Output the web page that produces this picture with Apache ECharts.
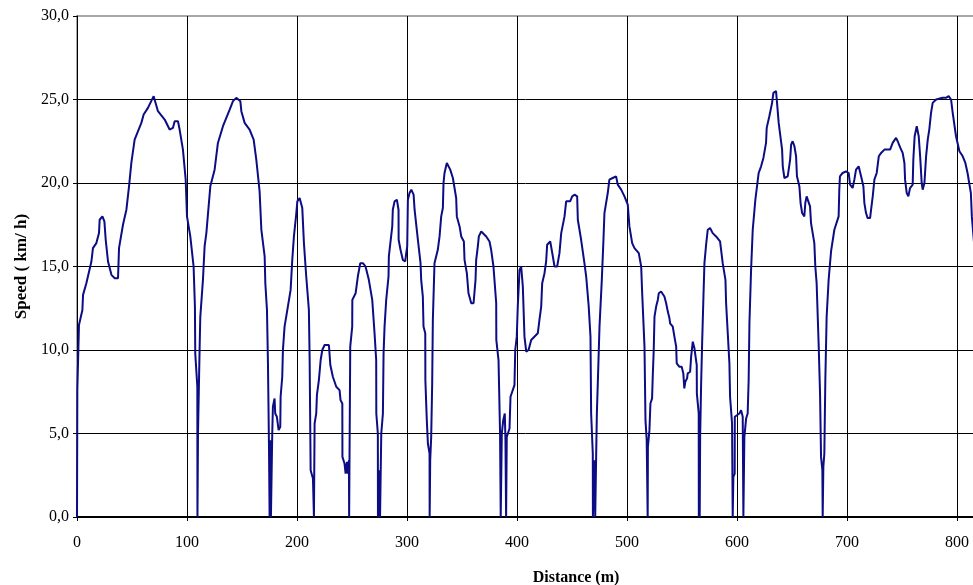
<!DOCTYPE html>
<html>
<head>
<meta charset="utf-8">
<script src="https://cdn.jsdelivr.net/npm/echarts@6/dist/echarts.min.js"></script>
<style>html,body{margin:0;padding:0;background:#fff;}#c{width:973px;height:585px;}</style>
</head>
<body>
<div id="c"></div>
<script>
var distance = [0,0.3,1.8,4.9,5.5,8.5,13.1,14.5,17.6,20,20.6,23.1,24.9,26.1,28.2,31.3,34.3,37.3,38.2,41.8,44.9,47.3,49.4,52.4,58.5,60.6,64.5,69.7,71.5,73.6,79.7,84.2,87.2,88.8,91.8,93.3,96.3,98.8,100,103,106,107.2,107.5,109.4,109.5,110,111.5,112.1,114.5,116,117.6,121.2,125.1,128.1,132.7,138.8,141.8,144.8,148.5,149.4,152.4,156.9,160.6,163,166,167.6,170.6,171.2,172.7,173.6,174.5,175.1,175.7,176.3,177.5,178.1,179.6,180.2,181.7,183.3,184.8,185.1,186.6,187.2,188.7,191.7,194.2,195.7,197.2,199.4,200.3,202.4,204.8,206.3,208.4,210.8,211.5,212.4,214.5,215.4,216,217.5,218.1,219.6,219.9,221.5,223,225.1,229,230.3,232.6,235.7,238.7,239.6,241.2,241.3,243.2,244.2,245.4,246.3,247.2,247.4,248,248.4,250.2,250.3,253.3,255.3,257.5,259.9,262.3,265.3,268.4,270.5,272,272.1,273.5,273.6,274.4,275.5,276.6,278.1,278.7,279.6,281.1,283.2,283.5,286.6,287.1,288.7,290.8,292.3,292.4,294.1,296.2,298.4,299.3,300.2,300.8,302.3,303.9,306,306.9,309.9,312.3,312.9,314.4,315,316.6,316.7,318,319,320.5,320.6,321.1,322,322.9,323.5,325,328,329.6,331.1,332.6,333.2,334.1,336.2,338,339.3,341.7,344.7,345.3,347.8,349.3,351.7,352.3,354.4,355.9,358.4,360.5,362.3,362.9,364.4,365.3,367.5,368.9,372,375,376.5,378.6,381.1,381.2,383.2,384.6,385.2,386.2,387.5,388.9,389.5,390.1,390.7,393.2,394.1,397.7,398.4,399.8,400.7,402.3,403.8,405.3,406.8,408.4,410.5,412.9,418.9,420.4,422,422.9,425,426.5,427.4,430.2,432.6,434.1,436.5,438.6,440.2,443.2,444.7,448.3,450.2,452.3,454.7,455.3,458.3,461.3,462.9,465.2,466.8,467.4,468.9,469,470.5,471.1,472,472.6,474,475,477.1,478.6,479.5,482.5,484,487,490.1,491.6,494.7,497.7,500.7,502.2,504.7,506.8,510.7,512.9,513.8,515.9,516.8,517.9,518.8,519,520.4,521.3,522.8,523.4,524.3,525,526.5,528,528.9,531,534,535.6,537.1,538.6,539.2,541.6,543.1,544.7,545.2,547.5,549.7,550.4,551.2,552.1,553,554.6,555.2,557.4,558.3,559.8,561.3,563.4,563.5,565.2,565.3,565.8,566.1,566.5,567.4,568.3,569.5,570.4,571.9,573.4,575.5,577.9,581,584.6,587,589.5,590.1,591.6,593.1,593.7,595.5,596.1,596.7,597.9,598,599.7,602.2,603.7,605.2,605.8,606.7,608.3,609.7,610.6,611.3,612.8,614.3,616.7,619.7,621.9,624,626.4,627,629.4,631.9,633.1,635.5,636.4,637.9,641,641.6,643.1,646.1,648.3,649.2,650.6,652.2,653.7,654.5,656.7,657.8,659.2,661.2,662.1,663.3,665.1,666.4,667.3,670.3,671.2,672.4,674.2,675.5,676.4,677.6,677.9,678.5,679.4,680.3,681.5,683.3,685.5,688.5,692.4,693,693.6,696,699.1,701.5,702.8,705.1,706.7,708.2,710.6,712.8,714.9,715.8,717.3,718.8,721,721.9,723.4,724.9,727,728.9,731,734,739.2,741.5,744.6,746.1,748.5,750.6,752.2,752.8,754.3,755.8,757.3,759.7,760.3,761.5,763.4,765.2,766.5,767.9,768.8,770.4,771.9,773.4,774.8,776.4,777.9,781,787,790,792.4,794.6,796.1,799.1,802.2,805.2,807.6,809.6,811.1,812.6,813.5,816];
var speed = [0,7.6,11.5,12.4,13.3,14.0,15.3,16.1,16.4,17.0,17.8,18.0,17.7,16.6,15.3,14.5,14.3,14.3,16.1,17.5,18.4,19.8,21.2,22.6,23.6,24.1,24.5,25.2,25.2,24.3,23.8,23.2,23.3,23.7,23.7,23.2,22.0,20.2,18.0,16.8,15.0,12.6,9.8,7.8,0,5.0,10.2,12.0,14.2,16.2,17.0,19.8,20.8,22.4,23.4,24.4,24.9,25.1,24.9,24.3,23.6,23.2,22.6,21.4,19.5,17.2,15.6,14.0,12.4,9.2,4.4,0,4.6,0,5.0,6.6,7.1,6.2,6.0,5.2,5.4,7.2,8.4,10.0,11.4,12.6,13.6,15.4,16.8,18.2,18.9,19.1,18.5,16.4,14.4,12.4,9.4,2.8,2.3,0,5.6,6.2,7.3,7.4,8.2,9.4,10.0,10.3,10.3,9.1,8.4,7.8,7.6,7.0,6.8,3.6,3.2,2.6,3.3,2.6,3.4,0,0,10.2,11.4,13.0,13.4,14.4,15.2,15.2,15.0,14.2,13.0,11.0,9.4,6.2,5.0,0,2.8,0,5.0,6.2,9.8,11.4,13.0,14.4,15.6,17.4,18.4,18.9,19.0,18.4,16.6,16.0,15.4,15.3,15.8,16.2,19.0,19.4,19.6,19.3,18.4,16.6,15.2,14.2,13.2,11.4,11.0,8.2,5.8,4.4,3.8,0,3.4,4.8,8.0,11.8,15.2,16.0,16.8,18.0,18.5,20.0,20.6,21.2,21.2,20.8,20.3,19.1,18.0,17.4,16.8,16.5,15.4,14.6,13.4,12.8,12.8,14.2,15.4,16.2,16.8,17.1,17.0,16.8,16.5,16.0,15.0,12.8,10.6,9.4,5.0,0,5.0,5.8,6.2,4.6,0,4.8,5.3,7.2,7.9,10.0,10.8,12.6,14.8,15.0,13.8,10.8,9.9,10.0,10.6,11.0,11.8,12.6,14.0,14.6,15.3,16.3,16.5,15.6,15.0,15.0,15.8,17.0,18.0,18.9,18.9,19.2,19.3,19.2,17.8,16.6,15.2,14.4,12.6,10.8,6.2,3.8,0,3.4,0,3.8,6.2,9.2,11.4,14.2,16.6,18.2,19.4,20.2,20.3,20.4,19.9,19.6,19.2,18.7,17.4,16.4,16.1,15.8,15.0,13.4,10.2,5.8,4.6,0,4.2,5.2,6.8,7.1,8.4,10.0,12.0,12.6,13.0,13.4,13.5,13.2,12.8,12.3,11.9,11.6,11.4,10.8,10.2,9.2,9.0,9.0,9.1,8.6,7.7,8.1,8.3,8.6,8.7,9.6,10.5,10.1,9.1,7.4,6.2,0,1.8,0,4.8,8.0,10.4,13.2,15.2,16.3,17.2,17.3,17.0,16.8,16.5,15.2,14.2,12.8,11.0,9.2,7.2,5.6,0,2.4,2.6,6.0,6.1,6.2,6.4,6.0,0,4.8,5.9,6.2,8.2,11.6,14.8,17.2,19.0,20.6,21.0,21.5,22.4,23.3,24.0,24.8,25.4,25.5,24.8,23.6,22.0,21.0,20.3,20.4,21.4,22.3,22.5,22.2,21.6,20.4,19.8,18.8,18.2,18.0,18.8,19.2,19.3,18.6,17.6,16.4,15.0,14.0,10.4,7.4,3.6,2.8,0,3.0,3.8,8.2,12.0,14.2,15.9,17.2,18.0,19.6,20.4,20.6,20.7,20.6,19.9,19.7,20.2,20.8,21.0,20.4,19.8,18.8,18.2,17.9,17.9,18.4,19.2,20.2,20.6,21.6,21.8,22.0,22.0,22.4,22.7,22.5,22.1,21.8,21.2,20.2,19.4,19.2,19.7,19.9,21.4,22.8,23.4,22.8,21.6,20.0,19.6,20.0,21.6,22.6,23.2,24.2,24.8,25.0,25.1,25.1,25.2,25.0,24.2,22.8,21.9,21.6,21.2,20.6,20.0,19.4,18.0,16.0];
var xTicks = [0,100,200,300,400,500,600,700,800,900];
var yTicks = [0,5,10,15,20,25,30];

var points = distance.map(function(d, i){ return [d, speed[i]]; });
var chart = echarts.init(document.getElementById('c'), null, {renderer:'canvas'});
var serif = "'Liberation Serif', 'Times New Roman', serif";
chart.setOption({
  animation: false,
  backgroundColor: '#fff',
  grid: { left: 77, top: 16, width: 990, height: 501, show: true, borderColor: '#8c8c8c', borderWidth: 1.5, backgroundColor: '#fff', containLabel: false, outerBoundsMode: 'none' },
  xAxis: {
    type: 'value', min: xTicks[0], max: xTicks[xTicks.length-1], interval: 100,
    name: 'Distance (m)', nameLocation: 'middle', nameGap: 53,
    nameTextStyle: { fontFamily: serif, fontWeight: 'bold', fontSize: 16, color: '#000', padding: [0,0,0,8] },
    axisLine: { show: true, lineStyle: { color: '#000', width: 2 } },
    axisTick: { show: true, length: 4, lineStyle: { color: '#000', width: 1 } },
    axisLabel: { margin: 18, fontFamily: serif, fontSize: 16, color: '#000' },
    splitLine: { show: true, lineStyle: { color: '#000', width: 1 } }
  },
  yAxis: {
    type: 'value', min: yTicks[0], max: yTicks[yTicks.length-1], interval: 5,
    name: 'Speed ( km/ h)', nameLocation: 'middle', nameGap: 47,
    nameTextStyle: { fontFamily: serif, fontWeight: 'bold', fontSize: 17, color: '#000' },
    axisLine: { show: true, lineStyle: { color: '#000', width: 1 } },
    axisTick: { show: true, length: 4, lineStyle: { color: '#000', width: 1 } },
    axisLabel: { margin: 8, fontFamily: serif, fontSize: 16, color: '#000',
      formatter: function(v){ return v.toFixed(1).replace('.', ','); } },
    splitLine: { show: true, showMaxLine: false, lineStyle: { color: '#000', width: 1 } }
  },
  series: [{
    type: 'line', data: points, showSymbol: false, symbol: 'none',
    lineStyle: { color: '#0c0c84', width: 2 }, smooth: false
  }]
});
</script>
</body>
</html>
